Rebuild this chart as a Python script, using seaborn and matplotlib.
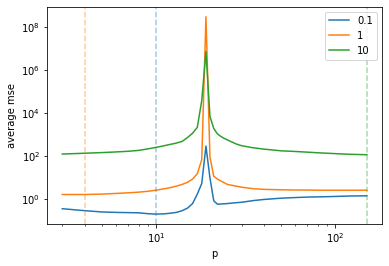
import matplotlib
matplotlib.use("Agg")
import matplotlib.pyplot as plt
from matplotlib.ticker import NullFormatter
import seaborn as sns
import pandas as pd

p_values = [3, 4, 5, 6, 7, 8, 9, 10, 11, 12, 13, 14, 15, 16, 17, 18, 19, 20,
            21, 22, 23, 24, 25, 28, 30, 35, 40, 50, 60, 70, 80, 100, 120, 150]

mse_01 = [0.372, 0.302, 0.263, 0.251, 0.245, 0.240, 0.219, 0.209, 0.214, 0.229,
          0.251, 0.302, 0.398, 0.646, 1.78, 5.5, 302, 10.0, 0.871, 0.603,
          0.617, 0.631, 0.646, 0.708, 0.741, 0.891, 1.0, 1.15, 1.23, 1.29,
          1.32, 1.38, 1.45, 1.48]

mse_1 = [1.70, 1.70, 1.78, 1.91, 2.04, 2.19, 2.40, 2.69, 3.09, 3.55, 4.17, 5.01,
         6.31, 8.91, 15.8, 70.8, 3.09e8, 93.3, 12.0, 8.91, 7.24, 6.03, 5.01,
         4.17, 3.72, 3.16, 2.95, 2.82, 2.75, 2.75, 2.69, 2.69, 2.69, 2.69]

mse_10 = [129, 141, 151, 162, 174, 191, 224, 263, 309, 363, 417, 501, 759, 1200,
          2240, 3.98e4, 7.59e6, 7240, 2000, 1120, 851, 692, 589, 380, 316, 251,
          219, 182, 170, 158, 148, 135, 126, 120]

series_labels = ["0.1", "1", "10"]
vline_positions = [10, 4, 150]
x_ticks = [10, 100]
y_ticks = [1e0, 1e2, 1e4, 1e6, 1e8]

rows = []
for lab, vals in zip(series_labels, [mse_01, mse_1, mse_10]):
    for p, v in zip(p_values, vals):
        rows.append({"p": p, "average mse": v, "lam": lab})
df = pd.DataFrame(rows)

colors = sns.color_palette("tab10", 3)

fig, ax = plt.subplots(figsize=(389 / 72, 266 / 72), dpi=72)
fig.subplots_adjust(left=0.121, right=0.982, top=0.974, bottom=0.158)

sns.lineplot(data=df, x="p", y="average mse", hue="lam", hue_order=series_labels,
             palette=colors, ax=ax, linewidth=1.5)

for xv, c in zip(vline_positions, colors):
    ax.axvline(xv, color=c, linestyle="--", alpha=0.4, linewidth=1.5)

ax.set_xscale("log")
ax.set_yscale("log")
xlim = ax.get_xlim()
ylim = ax.get_ylim()
ax.set_xticks(x_ticks)
ax.set_yticks(y_ticks)
ax.set_xlim(xlim)
ax.set_ylim(ylim)
ax.xaxis.set_minor_formatter(NullFormatter())
ax.yaxis.set_minor_formatter(NullFormatter())
ax.set_xlabel("p")
ax.set_ylabel("average mse")
ax.legend(loc="upper right", title=None)

fig.savefig("out.png", dpi=72)
